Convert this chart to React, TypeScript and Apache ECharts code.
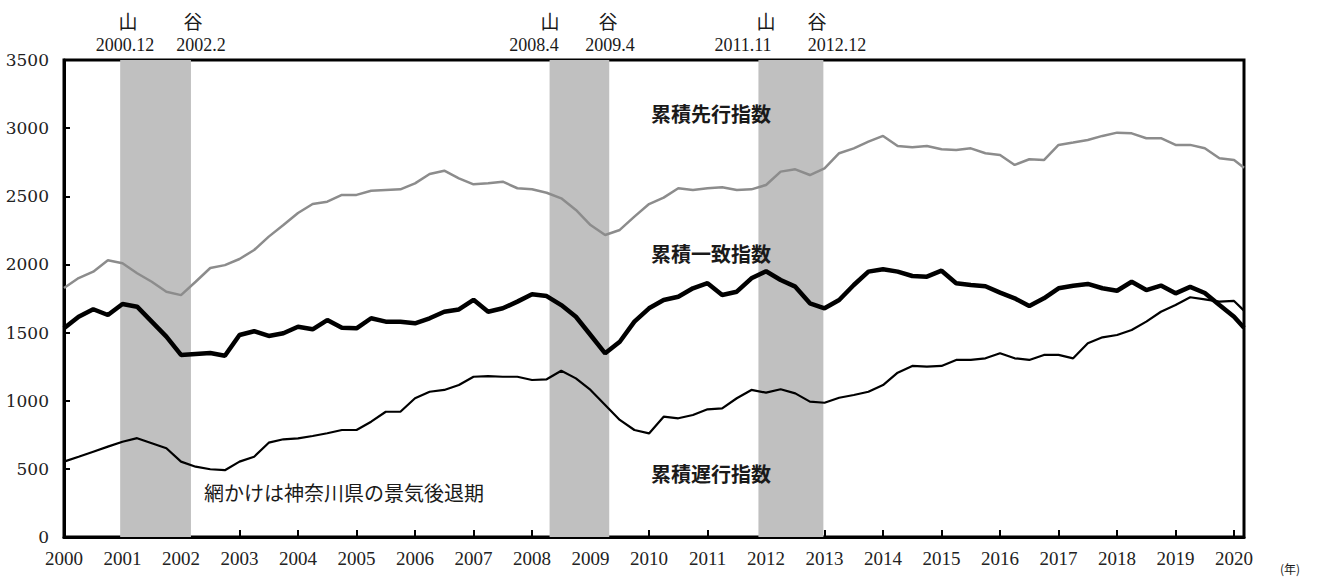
import React, { useEffect, useRef } from "react";
import * as echarts from "echarts";

// quarterly sample times (decimal year) and the last month
const times = [
  2000.0, 2000.25, 2000.5, 2000.75, 2001.0, 2001.25, 2001.5, 2001.75,
  2002.0, 2002.25, 2002.5, 2002.75, 2003.0, 2003.25, 2003.5, 2003.75,
  2004.0, 2004.25, 2004.5, 2004.75, 2005.0, 2005.25, 2005.5, 2005.75,
  2006.0, 2006.25, 2006.5, 2006.75, 2007.0, 2007.25, 2007.5, 2007.75,
  2008.0, 2008.25, 2008.5, 2008.75, 2009.0, 2009.25, 2009.5, 2009.75,
  2010.0, 2010.25, 2010.5, 2010.75, 2011.0, 2011.25, 2011.5, 2011.75,
  2012.0, 2012.25, 2012.5, 2012.75, 2013.0, 2013.25, 2013.5, 2013.75,
  2014.0, 2014.25, 2014.5, 2014.75, 2015.0, 2015.25, 2015.5, 2015.75,
  2016.0, 2016.25, 2016.5, 2016.75, 2017.0, 2017.25, 2017.5, 2017.75,
  2018.0, 2018.25, 2018.5, 2018.75, 2019.0, 2019.25, 2019.5, 2019.75,
  2020.0, 2020.17,
];

const leading = [
  1827, 1900, 1947, 2030, 2008, 1935, 1873, 1800,
  1775, 1873, 1974, 1995, 2040, 2106, 2204, 2289,
  2377, 2443, 2460, 2510, 2510, 2541, 2546, 2551,
  2595, 2664, 2688, 2632, 2588, 2595, 2607, 2559,
  2551, 2526, 2485, 2400, 2289, 2216, 2253, 2351,
  2443, 2490, 2559, 2546, 2559, 2566, 2546, 2551,
  2583, 2681, 2698, 2656, 2705, 2816, 2852, 2901,
  2943, 2869, 2860, 2869, 2845, 2840, 2852, 2816,
  2803, 2730, 2772, 2766, 2877, 2894, 2913, 2943,
  2967, 2962, 2926, 2926, 2877, 2877, 2852, 2779,
  2766, 2710,
];

const coincident = [
  1531, 1616, 1671, 1629, 1710, 1690, 1580, 1470,
  1336, 1343, 1350, 1330, 1482, 1510, 1475, 1495,
  1543, 1524, 1592, 1535, 1531, 1605, 1580, 1580,
  1568, 1605, 1653, 1670, 1740, 1653, 1678, 1727,
  1781, 1768, 1702, 1616, 1482, 1348, 1433, 1580,
  1678, 1739, 1763, 1825, 1862, 1776, 1800, 1898,
  1950, 1886, 1837, 1715, 1678, 1739, 1849, 1947,
  1965, 1947, 1915, 1910, 1954, 1862, 1849, 1840,
  1793, 1751, 1695, 1751, 1825, 1844, 1857, 1825,
  1807, 1873, 1812, 1845, 1788, 1835, 1790, 1702,
  1616, 1536,
];

const lagging = [
  553, 589, 626, 663, 699, 725, 688, 651,
  553, 516, 497, 490, 553, 589, 692, 717,
  724, 741, 761, 785, 785, 846, 919, 919,
  1018, 1066, 1079, 1115, 1176, 1181, 1176, 1176,
  1152, 1157, 1220, 1164, 1079, 969, 859, 785,
  760, 883, 871, 895, 937, 944, 1018, 1079,
  1059, 1084, 1054, 993, 985, 1022, 1042, 1066,
  1115, 1206, 1255, 1250, 1255, 1299, 1299, 1311,
  1348, 1311, 1299, 1336, 1336, 1311, 1421, 1465,
  1482, 1519, 1580, 1653, 1702, 1759, 1744, 1727,
  1732, 1661,
];

// recession bands (decimal years)
const bandStarts = [2000.96, 2008.3, 2011.87];
const bandEnds = [2002.17, 2009.32, 2012.98];
const peakLabels = ["2000.12", "2008.4", "2011.11"];
const troughLabels = ["2002.2", "2009.4", "2012.12"];

const yTicks = { min: 0, max: 3500, interval: 500 };

const CJK = "Noto Sans CJK JP";

export default function App() {
  const ref = useRef<HTMLDivElement>(null);
  useEffect(() => {
    if (!ref.current) return;
    const chart = echarts.init(ref.current, null, { renderer: "svg" });
    const pair = (vals: number[]) => times.map((t, i) => [t, vals[i]]);

    const peakX = [128, 550, 766];
    const troughX = [193, 608, 817];
    const peakDateX = [125, 534, 743];
    const troughDateX = [201, 610, 837];

    const txt = (text: string, x: number, y: number, size: number, family: string, weight = "normal", align = "center") => ({
      type: "text",
      x,
      y,
      z: 100,
      style: { text, fontSize: size, fontFamily: family, fontWeight: weight, fill: "#1a1a1a", align, verticalAlign: "middle" },
    });

    const graphics: any[] = [];
    for (let i = 0; i < 3; i++) {
      graphics.push(txt("山", peakX[i], 20, 19, CJK));
      graphics.push(txt("谷", troughX[i], 20, 19, CJK));
      graphics.push(txt(peakLabels[i], peakDateX[i], 45, 18, "Times New Roman"));
      graphics.push(txt(troughLabels[i], troughDateX[i], 45, 18, "Times New Roman"));
    }
    graphics.push(txt("累積先行指数", 711, 113, 20, CJK, "bold"));
    graphics.push(txt("累積一致指数", 711, 253, 20, CJK, "bold"));
    graphics.push(txt("累積遅行指数", 711, 473, 20, CJK, "bold"));
    graphics.push(txt("網かけは神奈川県の景気後退期", 204, 492, 20, CJK, "normal", "left"));
    graphics.push(txt("(年)", 1290, 568, 12, CJK));

    chart.setOption({
      animation: false,
      backgroundColor: "#fff",
      grid: { left: 64, right: 78, top: 60, bottom: 42, show: true, borderColor: "#000", borderWidth: 3, backgroundColor: "transparent" },
      xAxis: {
        type: "value",
        min: 2000,
        max: 2020.17,
        interval: 1,
        axisLine: { show: true, lineStyle: { color: "#000", width: 3 } },
        axisTick: { show: true, inside: true, length: 7, lineStyle: { color: "#000", width: 2 } },
        axisLabel: {
          formatter: (v: number) => (Math.abs(v - Math.round(v)) < 1e-6 ? String(Math.round(v)) : ""),
          fontFamily: "serif", fontSize: 19, color: "#222", margin: 12,
          showMaxLabel: false,
        },
        splitLine: { show: false },
      },
      yAxis: {
        type: "value",
        ...yTicks,
        axisLine: { show: true, lineStyle: { color: "#000", width: 3 } },
        axisTick: { show: true, inside: true, length: 6, lineStyle: { color: "#000", width: 2 } },
        axisLabel: { formatter: (v: number) => String(v), fontFamily: "DejaVu Serif", fontSize: 17, color: "#222", margin: 15 },
        splitLine: { show: false },
      },
      graphic: graphics,
      series: [
        {
          type: "line",
          name: "bands",
          data: [],
          z: 1,
          silent: true,
          markArea: {
            silent: true,
            itemStyle: { color: "#c0c0c0" },
            data: bandStarts.map((s, i) => [{ xAxis: s }, { xAxis: bandEnds[i] }]),
          },
        },
        {
          type: "line", name: "累積先行指数", data: pair(leading), showSymbol: false, z: 3,
          lineStyle: { color: "#8c8c8c", width: 2.5 },
        },
        {
          type: "line", name: "累積遅行指数", data: pair(lagging), showSymbol: false, z: 3,
          lineStyle: { color: "#000", width: 2.2 },
        },
        {
          type: "line", name: "累積一致指数", data: pair(coincident), showSymbol: false, z: 4,
          lineStyle: { color: "#000", width: 4.5 },
        },
      ],
    });
    return () => chart.dispose();
  }, []);
  return <div ref={ref} style={{ position: "fixed", left: 0, top: 0, width: 1322, height: 579 }} />;
}
